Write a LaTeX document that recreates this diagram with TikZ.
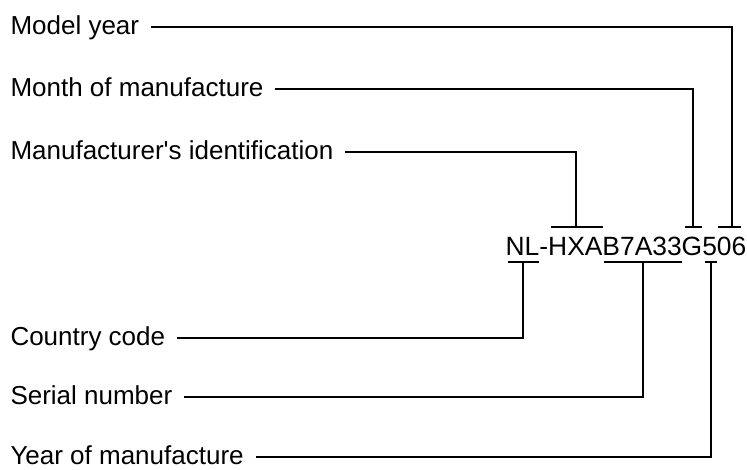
\documentclass[tikz,border=0pt]{standalone}
\usepackage{fontspec}
\setmainfont{Liberation Sans}
\begin{document}
\begin{tikzpicture}[x=1pt,y=-1pt,line width=2pt,
  lab/.style={anchor=west,inner sep=0pt,text height=18.2pt,text depth=3.4pt,
    font=\fontsize{26}{30}\selectfont},
  lead/.style={shorten <=11pt}]
\useasboundingbox (0,0) rectangle (747,469);
% the number
\node[anchor=base,inner sep=0pt,font=\fontsize{26.4}{30}\selectfont] (vin) at (626,255) {NL-HXAB7A33G506};
% bars above and below
\coordinate (my) at (732,226.7);
\coordinate (mm) at (693,226.7);
\coordinate (mi) at (576,226.7);
\coordinate (cc) at (523.3,261.7);
\coordinate (sn) at (643,261.7);
\coordinate (ym) at (711,261.7);
\draw (718,226.7) -- (741,226.7);
\draw (685,226.7) -- (702,226.7);
\draw (551,226.7) -- (603,226.7);
\draw (508,261.7) -- (539,261.7);
\draw (604,261.7) -- (682,261.7);
\draw (705,261.7) -- (717,261.7);
% labels
\node[lab] (lmy) at (9.5,26.7) {Model year};
\node[lab] (lmm) at (9.5,89.3) {Month of manufacture};
\node[lab] (lmi) at (9.5,151.7) {Manufacturer\textquotesingle s identification};
\node[lab] (lcc) at (9.5,337.7) {Country code};
\node[lab] (lsn) at (9.5,397.3) {Serial number};
\node[lab] (lym) at (9.5,457) {Year of manufacture};
% leaders
\draw[lead] (lmy.east) -| (my);
\draw[lead] (lmm.east) -| (mm);
\draw[lead] (lmi.east) -| (mi);
\draw[lead] (lcc.east) -| (cc);
\draw[lead] (lsn.east) -| (sn);
\draw[lead] (lym.east) -| (ym);
\end{tikzpicture}
\end{document}
